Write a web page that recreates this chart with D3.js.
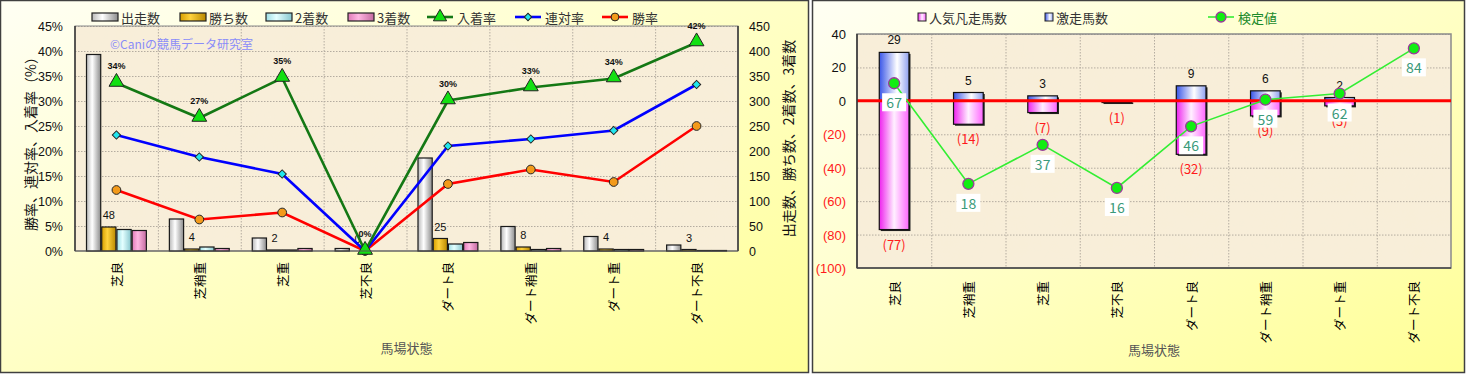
<!DOCTYPE html>
<html>
<head>
<meta charset="utf-8">
<script src="https://cdn.jsdelivr.net/npm/d3@7"></script>
<style>
    body { margin: 0; background: #ffffff; }
    text { font-family: "Noto Sans CJK JP", "Liberation Sans", sans-serif; }
    .num { font-family: "Liberation Sans", Arial, sans-serif; }
</style>
</head>
<body>
<svg id="SVGchart" width="1466" height="374"></svg>
<script>
"use strict";

// 馬場状態
const conditions = ["芝良", "芝稍重", "芝重", "芝不良", "ダート良", "ダート稍重", "ダート重", "ダート不良"];

// left chart: counts (right axis)
const starts = [393, 64, 26, 5, 186, 49, 29, 12];
const wins = [48, 4, 2, 0, 25, 8, 4, 3];
const seconds = [43, 8, 2, 0, 14, 3, 3, 1];
const thirds = [41, 5, 5, 0, 17, 5, 3, 1];
// left chart: rates in % (left axis)
const placeRate = [33.6, 26.6, 34.6, 0, 30.1, 32.7, 34.5, 41.7];
const rentaiRate = [23.2, 18.8, 15.4, 0, 21.0, 22.4, 24.1, 33.3];
const winRate = [12.2, 6.3, 7.7, 0, 13.4, 16.3, 13.8, 25.0];
const placeRateLabels = ["34%", "27%", "35%", "0%", "30%", "33%", "34%", "42%"];
const leftTicks = [0, 5, 10, 15, 20, 25, 30, 35, 40, 45];
const rightTicks = [0, 50, 100, 150, 200, 250, 300, 350, 400, 450];

// right chart
const upsetCounts = [29, 5, 3, 0, 9, 6, 2, 0];     // 激走馬数
const flopCounts = [77, 14, 7, 1, 32, 9, 3, 0];    // 人気凡走馬数
const testValues = [67, 18, 37, 16, 46, 59, 62, 84]; // 検定値
const diffTicks = [40, 20, 0, -20, -40, -60, -80, -100];

const svg = d3.select("#SVGchart");
const defs = svg.append("defs");

// helpers for gradients
const hGrad = (id, stops) => {
    const g = defs.append("linearGradient").attr("id", id)
        .attr("x1", "0%").attr("y1", "0%").attr("x2", "100%").attr("y2", "0%");
    stops.forEach(s => g.append("stop").attr("offset", s[0]).attr("stop-color", s[1]));
};
const bg = defs.append("linearGradient").attr("id", "panelBg")
    .attr("x1", "0%").attr("y1", "0%").attr("x2", "100%").attr("y2", "100%");
bg.append("stop").attr("offset", "0%").attr("stop-color", "#fffff4");
bg.append("stop").attr("offset", "100%").attr("stop-color", "#ffff96");

hGrad("gStart", [["0%", "#b8b8b8"], ["40%", "#ffffff"], ["100%", "#8c8c8c"]]);
hGrad("gWin", [["0%", "#d69e00"], ["40%", "#ffd23c"], ["100%", "#b88800"]]);
hGrad("gSecond", [["0%", "#9fdfe6"], ["40%", "#e4ffff"], ["100%", "#86c6ce"]]);
hGrad("gThird", [["0%", "#e07ab8"], ["40%", "#ffb6e2"], ["100%", "#c46aa0"]]);
hGrad("gBlue", [["0%", "#3a56e8"], ["60%", "#ffffff"], ["100%", "#8fa0f0"]]);
hGrad("gPink", [["0%", "#ee22ee"], ["50%", "#fff0ff"], ["100%", "#ff66ff"]]);

// parchment texture
const tex = defs.append("filter").attr("id", "paper").attr("x", 0).attr("y", 0).attr("width", 1).attr("height", 1);
tex.append("feTurbulence").attr("type", "fractalNoise").attr("baseFrequency", 0.035).attr("numOctaves", 3).attr("seed", 4);
tex.append("feColorMatrix").attr("type", "matrix")
    .attr("values", "0 0 0 0 0.93  0 0 0 0 0.86  0 0 0 0 0.72  0 0 0 0.35 0");
tex.append("feComposite").attr("in2", "SourceGraphic").attr("operator", "in");

// panels
svg.append("rect").attr("x", 0.5).attr("y", 0.5).attr("width", 808).attr("height", 372)
    .attr("fill", "url(#panelBg)").attr("stroke", "#404040").attr("stroke-width", 1.5);
svg.append("rect").attr("x", 812.5).attr("y", 0.5).attr("width", 652).attr("height", 372)
    .attr("fill", "url(#panelBg)").attr("stroke", "#404040").attr("stroke-width", 1.5);

const plotBg = (g, x0, y0, w, h) => {
    g.append("rect").attr("x", x0).attr("y", y0).attr("width", w).attr("height", h).attr("fill", "#f8eed8");
    g.append("rect").attr("x", x0).attr("y", y0).attr("width", w).attr("height", h)
        .attr("fill", "#fff").attr("filter", "url(#paper)");
};

// marker shapes of the rate lines
const markerPath = (type, size) => {
    if (type === "circle") return d3.symbol().type(d3.symbolCircle).size(size)();
    if (type === "diamond") return d3.symbol().type(d3.symbolSquare).size(size)();
    return d3.symbol().type(d3.symbolTriangle).size(size)();
};
const markerRotate = type => type === "diamond" ? " rotate(45)" : "";

const leftChart = {
    G: svg.append("g"),
    padding: { top: 26, bottom: 251, left: 75, right: 738 },
    render: () => {
        const p = leftChart.padding;
        const G = leftChart.G;
        plotBg(G, p.left, p.top, p.right - p.left, p.bottom - p.top);

        const x = d3.scaleBand().domain(conditions).range([p.left, p.right]);
        const yRate = d3.scaleLinear().domain([0, 45]).range([p.bottom, p.top]);
        const yCount = d3.scaleLinear().domain([0, 450]).range([p.bottom, p.top]);

        // grid
        G.selectAll(".hgrid").data(leftTicks.slice(1)).enter().append("line")
            .attr("x1", p.left).attr("x2", p.right)
            .attr("y1", d => yRate(d) + 0.5).attr("y2", d => yRate(d) + 0.5)
            .attr("stroke", "#b4aca0").attr("stroke-dasharray", "1.5,1.5");
        G.selectAll(".vgrid").data(conditions.slice(1)).enter().append("line")
            .attr("x1", d => x(d) + 0.5).attr("x2", d => x(d) + 0.5)
            .attr("y1", p.top).attr("y2", p.bottom)
            .attr("stroke", "#b4aca0").attr("stroke-dasharray", "1.5,1.5");
        G.append("rect").attr("x", p.left).attr("y", p.top)
            .attr("width", p.right - p.left).attr("height", p.bottom - p.top)
            .attr("fill", "none").attr("stroke", "#8a8a8a");

        // watermark
        G.append("text").attr("x", 110).attr("y", 49)
            .style("font-size", "12px").style("fill", "#8a8cf8")
            .text("©Caniの競馬データ研究室");

        // bars
        const series = [
            { key: "出走数", values: starts, fill: "url(#gStart)" },
            { key: "勝ち数", values: wins, fill: "url(#gWin)" },
            { key: "2着数", values: seconds, fill: "url(#gSecond)" },
            { key: "3着数", values: thirds, fill: "url(#gThird)" }
        ];
        const inner = d3.scaleBand().domain(series.map(s => s.key)).range([11, x.bandwidth() - 11]);
        series.forEach(s => {
            G.selectAll(".bar-" + s.key).data(conditions).enter().append("rect")
                .attr("x", d => x(d) + inner(s.key) + 0.5)
                .attr("y", (d, i) => yCount(s.values[i]))
                .attr("width", inner.bandwidth() - 1)
                .attr("height", (d, i) => p.bottom - yCount(s.values[i]))
                .attr("fill", s.fill)
                .attr("stroke", "#1a1a1a").attr("stroke-width", 1.2);
        });
        // win count labels
        G.selectAll(".winLabel").data(conditions).enter().append("text")
            .attr("class", "num")
            .attr("x", d => x(d) + inner("勝ち数") + inner.bandwidth() / 2)
            .attr("y", (d, i) => yCount(wins[i]) - 8)
            .attr("text-anchor", "middle")
            .style("font-size", "11px").style("fill", "#111")
            .text((d, i) => wins[i]);

        // lines
        const cx = d => x(d) + x.bandwidth() / 2;
        const lines = [
            { values: winRate, color: "#ff0000", marker: "circle", size: 60, mfill: "#f39a1a" },
            { values: rentaiRate, color: "#0000ff", marker: "diamond", size: 34, mfill: "#22e6ee" },
            { values: placeRate, color: "#147814", marker: "triangle", size: 95, mfill: "#12e012" }
        ];
        lines.forEach(l => {
            G.append("path")
                .datum(conditions)
                .attr("d", d3.line().x(cx).y((d, i) => yRate(l.values[i])))
                .attr("fill", "none").attr("stroke", l.color).attr("stroke-width", 2.6);
        });
        lines.forEach(l => {
            G.selectAll(".mk-" + l.marker).data(conditions).enter().append("path")
                .attr("transform", (d, i) => "translate(" + cx(d) + "," + (yRate(l.values[i]) + (l.marker === "triangle" ? -1 : 0)) + ")" + markerRotate(l.marker))
                .attr("d", markerPath(l.marker, l.size))
                .attr("fill", l.mfill).attr("stroke", "#222").attr("stroke-width", 1);
        });
        G.selectAll(".placeLabel").data(conditions).enter().append("text")
            .attr("class", "num")
            .attr("x", cx)
            .attr("y", (d, i) => yRate(placeRate[i]) - 14)
            .attr("text-anchor", "middle")
            .style("font-size", "9px").style("font-weight", "bold").style("fill", "#111")
            .text((d, i) => placeRateLabels[i]);

        // axes
        G.append("line").attr("x1", p.left).attr("x2", p.left).attr("y1", p.top).attr("y2", p.bottom)
            .attr("stroke", "#333").attr("stroke-width", 1.5);
        G.append("line").attr("x1", p.right).attr("x2", p.right).attr("y1", p.top).attr("y2", p.bottom)
            .attr("stroke", "#333").attr("stroke-width", 1.5);
        G.append("line").attr("x1", p.left).attr("x2", p.right).attr("y1", p.bottom).attr("y2", p.bottom)
            .attr("stroke", "#555").attr("stroke-width", 1.2);
        G.selectAll(".ltick").data(leftTicks).enter().append("text")
            .attr("class", "num")
            .attr("x", p.left - 12).attr("y", d => yRate(d) + 5)
            .attr("text-anchor", "end")
            .style("font-size", "12.5px").style("fill", "#111")
            .text(d => d + "%");
        G.selectAll(".rtick").data(rightTicks).enter().append("text")
            .attr("class", "num")
            .attr("x", p.right + 11).attr("y", d => yCount(d) + 5)
            .attr("text-anchor", "start")
            .style("font-size", "12.5px").style("fill", "#111")
            .text(d => d);
        G.selectAll(".xlab").data(conditions).enter().append("text")
            .attr("transform", d => "translate(" + cx(d) + "," + (p.bottom + 11) + ") rotate(-90)")
            .attr("text-anchor", "end").attr("dominant-baseline", "central")
            .style("font-size", "12.5px").style("fill", "#000")
            .text(d => d);
        G.append("text")
            .attr("transform", "translate(30," + ((p.top + p.bottom) / 2 + 2) + ") rotate(-90)")
            .attr("text-anchor", "middle").attr("dominant-baseline", "central")
            .style("font-size", "14px").style("fill", "#111")
            .text("勝率、連対率、入着率（%）");
        G.append("text")
            .attr("transform", "translate(788," + ((p.top + p.bottom) / 2) + ") rotate(-90)")
            .attr("text-anchor", "middle").attr("dominant-baseline", "central")
            .style("font-size", "14px").style("fill", "#111")
            .text("出走数、勝ち数、2着数、3着数");
        G.append("text")
            .attr("x", (p.left + p.right) / 2).attr("y", 353)
            .attr("text-anchor", "middle")
            .style("font-size", "13px").style("fill", "#555")
            .text("馬場状態");

        // legend
        const lg = G.append("g").attr("transform", "translate(0,17)");
        const barLegend = [
            { x: 92, key: "出走数", fill: "url(#gStart)" },
            { x: 180, key: "勝ち数", fill: "url(#gWin)" },
            { x: 266, key: "2着数", fill: "url(#gSecond)" },
            { x: 348, key: "3着数", fill: "url(#gThird)" }
        ];
        barLegend.forEach(b => {
            lg.append("rect").attr("x", b.x).attr("y", -4).attr("width", 26).attr("height", 8)
                .attr("fill", b.fill).attr("stroke", "#222").attr("stroke-width", 1.2);
            lg.append("text").attr("x", b.x + 29).attr("y", 0).attr("dominant-baseline", "central")
                .style("font-size", "13px").style("fill", "#333").text(b.key);
        });
        const lineLegend = [
            { x: 427, key: "入着率", line: lines[2] },
            { x: 515, key: "連対率", line: lines[1] },
            { x: 602, key: "勝率", line: lines[0] }
        ];
        lineLegend.forEach(b => {
            const l = b.line;
            lg.append("line").attr("x1", b.x).attr("x2", b.x + 26).attr("y1", 0).attr("y2", 0)
                .attr("stroke", l.color).attr("stroke-width", 2.6);
            lg.append("path").attr("transform", "translate(" + (b.x + 13) + ",0)" + markerRotate(l.marker))
                .attr("d", markerPath(l.marker, l.size * 0.8))
                .attr("fill", l.mfill).attr("stroke", "#222").attr("stroke-width", 1);
            lg.append("text").attr("x", b.x + 30).attr("y", 0).attr("dominant-baseline", "central")
                .style("font-size", "13px").style("fill", "#333").text(b.key);
        });
    }
};

const rightChart = {
    G: svg.append("g"),
    padding: { top: 34, bottom: 268, left: 857, right: 1451 },
    render: () => {
        const p = rightChart.padding;
        const G = rightChart.G;
        plotBg(G, p.left, p.top, p.right - p.left, p.bottom - p.top);

        const x = d3.scaleBand().domain(conditions).range([p.left, p.right]);
        const y = d3.scaleLinear().domain([-100, 40]).range([p.bottom, p.top]);
        // hidden secondary axis for 検定値
        const yTest = d3.scaleLinear().domain([-23, 91]).range([p.bottom, p.top]);
        const cx = d => x(d) + x.bandwidth() / 2;
        const bw = x.bandwidth() * 0.4;

        G.selectAll(".hgrid").data(diffTicks.slice(0, -1)).enter().append("line")
            .attr("x1", p.left).attr("x2", p.right)
            .attr("y1", d => y(d) + 0.5).attr("y2", d => y(d) + 0.5)
            .attr("stroke", "#b4aca0").attr("stroke-dasharray", "1.5,1.5");
        G.selectAll(".vgrid").data(conditions.slice(1)).enter().append("line")
            .attr("x1", d => x(d) + 0.5).attr("x2", d => x(d) + 0.5)
            .attr("y1", p.top).attr("y2", p.bottom)
            .attr("stroke", "#b4aca0").attr("stroke-dasharray", "1.5,1.5");
        G.append("rect").attr("x", p.left).attr("y", p.top)
            .attr("width", p.right - p.left).attr("height", p.bottom - p.top)
            .attr("fill", "none").attr("stroke", "#8a8a8a").attr("stroke-width", 1.5);

        // bars: shadow then fill
        const barData = conditions.map((c, i) => ({ c: c, up: upsetCounts[i], down: flopCounts[i] }))
            .filter(d => d.up > 0 || d.down > 0);
        G.selectAll(".shadow").data(barData).enter().append("rect")
            .attr("x", d => cx(d.c) - bw / 2 + 1.5)
            .attr("y", d => y(d.up) + 1.5)
            .attr("width", bw).attr("height", d => y(-d.down) - y(d.up))
            .attr("fill", "#222");
        G.selectAll(".upBar").data(barData.filter(d => d.up > 0)).enter().append("rect")
            .attr("x", d => cx(d.c) - bw / 2)
            .attr("y", d => y(d.up))
            .attr("width", bw).attr("height", d => y(0) - y(d.up))
            .attr("fill", "url(#gBlue)");
        G.selectAll(".downBar").data(barData.filter(d => d.down > 0)).enter().append("rect")
            .attr("x", d => cx(d.c) - bw / 2)
            .attr("y", y(0))
            .attr("width", bw).attr("height", d => y(-d.down) - y(0))
            .attr("fill", "url(#gPink)");
        G.selectAll(".outline").data(barData).enter().append("rect")
            .attr("x", d => cx(d.c) - bw / 2)
            .attr("y", d => y(d.up))
            .attr("width", bw).attr("height", d => y(-d.down) - y(d.up))
            .attr("fill", "none").attr("stroke", "#111").attr("stroke-width", 1.2);

        G.selectAll(".upLabel").data(barData.filter(d => d.up > 0)).enter().append("text")
            .attr("class", "num")
            .attr("x", d => cx(d.c)).attr("y", d => y(d.up) - 8)
            .attr("text-anchor", "middle")
            .style("font-size", "12px").style("fill", "#111")
            .text(d => d.up);
        G.selectAll(".downLabel").data(barData.filter(d => d.down > 0)).enter().append("text")
            .attr("x", d => cx(d.c)).attr("y", d => y(-d.down) + 20)
            .attr("text-anchor", "middle")
            .style("font-size", "13px").style("fill", "#ff1a1a")
            .text(d => "(" + d.down + ")");

        // zero line
        G.append("line").attr("x1", p.left).attr("x2", p.right)
            .attr("y1", y(0)).attr("y2", y(0))
            .attr("stroke", "#ff0000").attr("stroke-width", 3);

        // 検定値
        G.append("path").datum(conditions)
            .attr("d", d3.line().x(cx).y((d, i) => yTest(testValues[i])))
            .attr("fill", "none").attr("stroke", "#33ee33").attr("stroke-width", 1.6);
        const tl = G.selectAll(".testLabel").data(conditions).enter().append("g")
            .attr("transform", (d, i) => "translate(" + cx(d) + "," + (yTest(testValues[i]) + 19) + ")");
        tl.append("rect").attr("x", -12).attr("y", -9).attr("width", 24).attr("height", 18).attr("fill", "#ffffff");
        tl.append("text").attr("text-anchor", "middle").attr("dominant-baseline", "central")
            .style("font-size", "14px").style("fill", "#3a9a7a")
            .text((d, i) => testValues[i]);
        G.selectAll(".testMarker").data(conditions).enter().append("circle")
            .attr("cx", cx).attr("cy", (d, i) => yTest(testValues[i]))
            .attr("r", 5.5).attr("fill", "#11ee11").attr("stroke", "#9a3a9a").attr("stroke-width", 1.3);

        // axes
        G.append("line").attr("x1", p.left).attr("x2", p.left).attr("y1", p.top).attr("y2", p.bottom)
            .attr("stroke", "#333").attr("stroke-width", 1.5);
        G.append("line").attr("x1", p.left).attr("x2", p.right).attr("y1", p.bottom).attr("y2", p.bottom)
            .attr("stroke", "#444").attr("stroke-width", 1.5);
        G.selectAll(".ytick").data(diffTicks).enter().append("text")
            .attr("class", "num")
            .attr("x", p.left - 11).attr("y", d => y(d) + 5)
            .attr("text-anchor", "end")
            .style("font-size", "13px").style("fill", d => d < 0 ? "#ff1a1a" : "#111")
            .text(d => d < 0 ? "(" + (-d) + ")" : d);
        G.selectAll(".xlab").data(conditions).enter().append("text")
            .attr("transform", d => "translate(" + cx(d) + "," + (p.bottom + 13) + ") rotate(-90)")
            .attr("text-anchor", "end").attr("dominant-baseline", "central")
            .style("font-size", "12.5px").style("fill", "#000")
            .text(d => d);
        G.append("text")
            .attr("x", (p.left + p.right) / 2).attr("y", 355)
            .attr("text-anchor", "middle")
            .style("font-size", "13px").style("fill", "#555")
            .text("馬場状態");

        // legend
        const lg = G.append("g").attr("transform", "translate(0,17)");
        lg.append("rect").attr("x", 918).attr("y", -4).attr("width", 8).attr("height", 8)
            .attr("fill", "url(#gPink)").attr("stroke", "#222");
        lg.append("text").attr("x", 929).attr("y", 0).attr("dominant-baseline", "central")
            .style("font-size", "13px").style("fill", "#333").text("人気凡走馬数");
        lg.append("rect").attr("x", 1045).attr("y", -4).attr("width", 8).attr("height", 8)
            .attr("fill", "url(#gBlue)").attr("stroke", "#222");
        lg.append("text").attr("x", 1056).attr("y", 0).attr("dominant-baseline", "central")
            .style("font-size", "13px").style("fill", "#333").text("激走馬数");
        lg.append("line").attr("x1", 1208).attr("x2", 1234).attr("y1", 0).attr("y2", 0)
            .attr("stroke", "#33ee33").attr("stroke-width", 1.6);
        lg.append("circle").attr("cx", 1221).attr("cy", 0).attr("r", 5)
            .attr("fill", "#11ee11").attr("stroke", "#9a3a9a").attr("stroke-width", 1.3);
        lg.append("text").attr("x", 1238).attr("y", 0).attr("dominant-baseline", "central")
            .style("font-size", "13px").style("fill", "#1a8a2a").text("検定値");
    }
};

leftChart.render();
rightChart.render();
</script>
</body>
</html>
